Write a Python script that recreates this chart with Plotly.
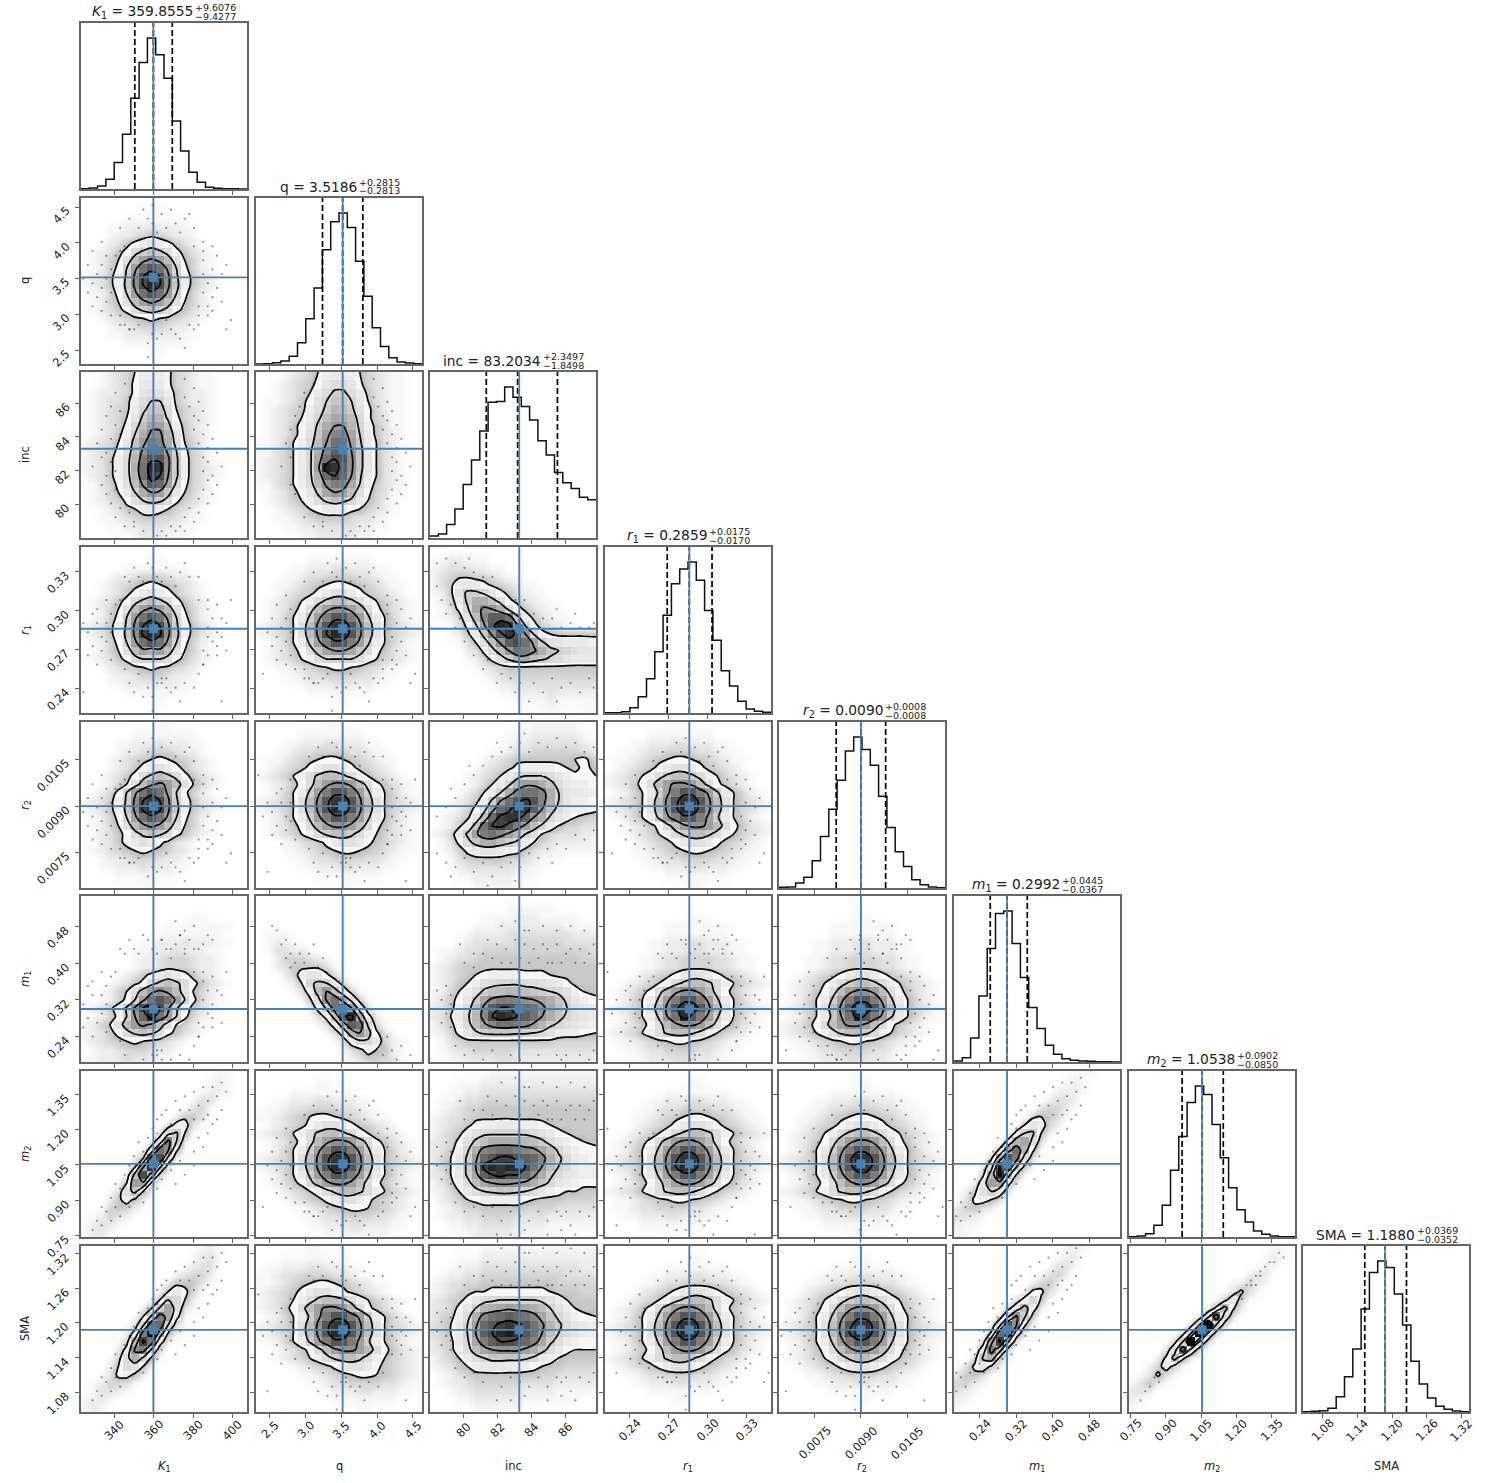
import numpy as np
import plotly.graph_objects as go

# corner plot, values
W, H = 1494, 1483
COL_LEFT = [81, 256, 430, 605, 779, 954, 1129, 1303]
ROW_TOP = [23, 198, 372, 547, 722, 896, 1071, 1246]
SIZE = 166

LABELS = ["<i>K</i><sub>1</sub>", "q", "inc", "<i>r</i><sub>1</sub>", "<i>r</i><sub>2</sub>",
          "<i>m</i><sub>1</sub>", "<i>m</i><sub>2</sub>", "SMA"]
RANGES = [(323.1, 407.4), (2.309, 4.626), (78.03, 87.83), (0.221, 0.3488),
          (0.00635, 0.01172), (0.183, 0.547), (0.743, 1.449), (1.046, 1.333)]
TICK_TEXT = [["340", "360", "380", "400"], ["2.5", "3.0", "3.5", "4.0", "4.5"], ["80", "82", "84", "86"],
             ["0.24", "0.27", "0.30", "0.33"], ["0.0075", "0.0090", "0.0105"], ["0.24", "0.32", "0.40", "0.48"],
             ["0.75", "0.90", "1.05", "1.20", "1.35"], ["1.08", "1.14", "1.20", "1.26", "1.32"]]
TRUTH = [359.8555, 3.5186, 83.3, 0.2859, 0.0090, 0.2992, 1.0538, 1.1880]
MEDIAN = ["359.8555", "3.5186", "83.2034", "0.2859", "0.0090", "0.2992", "1.0538", "1.1880"]
PLUS = ["+9.6076", "+0.2815", "+2.3497", "+0.0175", "+0.0008", "+0.0445", "+0.0902", "+0.0369"]
MINUS = ["\u22129.4277", "\u22120.2813", "\u22121.8498", "\u22120.0170", "\u22120.0008", "\u22120.0367", "\u22120.0850", "\u22120.0352"]
TITLE_END = [193, 357, 541, 707, 883, 1060, 1235, 1415]
Q16 = [350.4278, 3.2373, 81.3536, 0.2689, 0.0082, 0.2625, 0.9688, 1.1528]
Q50 = [359.8555, 3.5186, 83.2034, 0.2859, 0.0090, 0.2992, 1.0538, 1.1880]
Q84 = [369.4631, 3.8001, 85.5531, 0.3034, 0.0098, 0.3437, 1.1440, 1.2249]

# 1d histograms, 20 bins each
HIST_K1 = [1, 3, 9, 29, 79, 164, 272, 379, 452, 402, 332, 204, 114, 50, 20, 5, 2, 1, 1, 0]
HIST_Q = [0, 1, 4, 9, 23, 64, 136, 229, 344, 428, 454, 411, 309, 204, 109, 53, 19, 6, 3, 1]
HIST_INC = [6, 12, 40, 87, 160, 233, 320, 406, 408, 451, 421, 393, 353, 291, 248, 196, 165, 148, 122, 114]
HIST_R1 = [1, 1, 4, 16, 49, 103, 184, 294, 389, 433, 454, 399, 308, 219, 127, 81, 35, 12, 5, 2]
HIST_R2 = [2, 3, 15, 32, 82, 155, 237, 324, 412, 454, 417, 369, 276, 182, 109, 65, 25, 10, 3, 1]
HIST_M1 = [3, 13, 72, 198, 340, 445, 452, 355, 253, 163, 100, 50, 23, 10, 5, 3, 2, 1, 1, 0]
HIST_M2 = [1, 3, 10, 35, 95, 200, 302, 404, 453, 428, 338, 238, 148, 82, 45, 18, 8, 3, 1, 1]
HIST_SMA = [1, 2, 4, 11, 46, 106, 189, 309, 419, 453, 434, 354, 261, 152, 84, 42, 17, 8, 3, 1]
HISTS = [HIST_K1, HIST_Q, HIST_INC, HIST_R1, HIST_R2, HIST_M1, HIST_M2, HIST_SMA]

# 2d density per panel, 20x20 bins, top row first, one base-36 digit per bin
Z_q_K1 = ["00000000000000000000", "00000001110000000000", "00000111111110000000", "00011222322211000000",
          "00012234543221000000", "00123579b97532100000", "012357cfhfc753210000", "01246bhlnlhb64210000",
          "01247elqtqle74210000", "12358fnuwunf85321000", "12358gnuxung85321000", "01247elqtqle74210000",
          "01246bhlnlhb64210000", "012357cfhfc753210000", "00123456765432100000", "00012234443221000000",
          "00011222322211000000", "00000111111110000000", "00000000110000000000", "00000000000000000000"]
Z_inc_K1 = ["00123468887432110000", "00123479997432110000", "0122347abb8532210000", "0123358ceea532210000",
            "0123459dggc643210000", "012346afiid743210000", "012347chllg853210000", "012358ejnnib53210000",
            "12346aglpojc64210000", "12347bhnrqle74310000", "12358cipttnf84310000", "12358cjqxwnf84321000",
            "12358ciqwumf84321000", "01347bhntrkd74310000", "012469ejmlga64210000", "012347begfc743210000",
            "00123568986432100000", "00112345544321100000", "00011223332211000000", "00000012221110000000"]
Z_inc_q = ["00012346899864321100", "00123457acca74321100", "00123469cffc95321100", "0112357beggea6321100",
           "0123458cfihfb7421100", "0123469dhkjhc7431100", "012357afjmmid8531100", "012357bglooke9532100",
           "112468chmqqlf9632100", "113469djosrmga632100", "123469dkqutnga632100", "123469dlxwsnga632100",
           "123469djrurmf9632100", "113468cinpoke8532100", "012357afkmlhb7431100", "0123468cfhfd96421000",
           "00123467999764321000", "00112345555433210000", "00011223333322110000", "00000112222211000000"]
Z_r1_K1 = ["00000000000000000000", "00000000110000000000", "00000111111110000000", "00012234443221000000",
           "00123456765432100000", "00123579b97532100000", "012357cfhfc753210000", "01246bhlnlhb64210000",
           "01247elqtqle74210000", "12358fnuwunf85321000", "12358gnvxvng85321000", "01247elqtqle74210000",
           "01246bhljlhb64210000", "012357ceeec753210000", "00123456765432100000", "00012234443221000000",
           "00011222322211000000", "00000111111110000000", "00000000110000000000", "00000000000000000000"]
Z_r1_q = ["00000000000000000000", "00000011111111000000", "00001122233222110000", "00011233444433211000",
          "00112345677654321100", "001234579bb975432100", "0123468cfhhfc8643210", "012357chlnnlhc753210",
          "012469flpttplf964210", "12346bhntwwtnhb64321", "12346bhnuxwtnhb64321", "012469flpttplf964210",
          "012357cgkmmkgc753210", "0123468ceeeec8643210", "00112345677654321100", "00011233444433211000",
          "00001122233222110000", "00000011111111000000", "00000000011000000000", "00000000000000000000"]
Z_r1_inc = ["00000000000000000000", "01221110000000000000", "12333221100000000000", "13455443211000000000",
            "1359a975432110000000", "125bffda753211000000", "0249fjjgc75321100000", "0137dknmjd8532110000",
            "0124ahossqg953211000", "00137dltxwne84321100", "001259gntwtme8655555", "000136bhnsuqlfba9998",
            "0000237chmqpnjgedbaa", "00001247bfjkhfdca999", "00000123455555555555", "00000012344444444444",
            "00000001223333333333", "00000000112222322222", "00000000001111211111", "00000000000001110011"]
Z_r2_K1 = ["00000000011000000000", "00000011111111000000", "00001122232221100000", "00001223444322100000",
           "00012345676543210000", "000123579b9753210000", "0012357cfhfc75321000", "001246bhlnlhb6421000",
           "01247elqtqle74210000", "12358fnuwunf85321000", "12358gnvxvng85321000", "01247elqtqle74210000",
           "01246bhlnlhb64210000", "012357cfhfc753210000", "0123579b975321000000", "01234567654321000000",
           "00122344432210000000", "00112223222110000000", "00001111111100000000", "00000001100000000000"]
Z_r2_q = ["00000000110000000000", "00000111111110000000", "00011222332221100000", "00112334444332110000",
          "01123456776543211000", "01234579bb9754321000", "123468cfhhfc86432100", "012357chlnnlhc753210",
          "012469flpttplf964210", "12346bhntwwtnhb64321", "12346bhntxwtnhb64321", "012469flpttplf964210",
          "012357chlnnlhc753210", "0123468cfhhfc8643210", "0001234579bb97543210", "00011234567765432110",
          "00001123344443321100", "00000112223322211000", "00000001111111100000", "00000000001100000000"]
Z_r2_inc = ["00000000000011111100", "00000000011122222210", "00000000112233333321", "00000001123344444432",
            "00000012345555555674", "00000123457888876575", "0000123469ceeeca8776", "000112469dilljgc9887",
            "00012469ejoqqojea998", "0012358fmqtvtojea887", "001247ckrtxwsmhc9887", "01235ahrvwwsmjda8654",
            "01259gquvtplhd964433", "1249flpqolieb6433322", "0137cgjjhfd964322221", "012479aa987532211111",
            "00134555544321110000", "00123333332211000000", "00011222221110000000", "00000111111000000000"]
Z_r2_r1 = ["00000000110000000000", "00000111111110000000", "00011222332221100000", "00112334444332110000",
           "01123456776543211000", "01234579bb9754321000", "123468cfhhfc86432100", "12357chlnnlhc7532100",
           "012469flpttplf964210", "12346bhntwwtnhb64321", "12346bhntxwtnhb64321", "012469flpttplf964210",
           "0012357chlnnlhc75321", "00123468cfhhfc864321", "0001234579bb97543210", "00011234567765432110",
           "00001123344443321100", "00000112223322211000", "00000001111111100000", "00000000001100000000"]
Z_m1_K1 = ["00000000000000000000", "00000000000000000000", "00000000000001100000", "00000000001111111100",
           "00000000011111111000", "00000001122232221100", "00000011222322211000", "00000012234443221000",
           "00000012234443221000", "0000123579b975321000", "00012357cfhfc7532100", "001246bhlnlhb6421000",
           "001247elqtqle7421000", "12358fnuwunf85321000", "01247emrxqle74210000", "1246bhlnlhb642100000",
           "12357cfhfc7532100000", "12345676543210000000", "01223444322100000000", "11222322211000000000"]
Z_m1_q = ["00000000000000000000", "00000000000000000000", "00000000000000000000", "00000000000000000000",
          "01110000000000000000", "01221000000000000000", "01332210000000000000", "00244432100000000000",
          "00235555310000000000", "000248aa731000000000", "000126dfe94100000000", "0000139hmha410000000",
          "0000015cnqkc41000000", "00000028fqtmb3100000", "000000138htwj8200000", "0000000139isqd410000",
          "00000000139imh731000", "000000000139dd942100", "00000000001358652100", "00000000000123433100"]
Z_m1_inc = ["00000000000000000000", "00000000011111100000", "00000011112221111100", "00000111222222221111",
            "00001222233333333222", "00012333334444443333", "01123344444444444443", "01233455555555555544",
            "12345555555555555555", "12345678888777655555", "123568bcdddccba97555", "12468bfhhiihgfedb865",
            "1357afknpponmljgda87", "2358chnsuutrqnkheba9", "2369diouxwusqmjgdba9", "1358chloqqpolifdba98",
            "1247adfgggffedb98876", "01345555555555544444", "01233444443333333333", "00112222332222222222"]
Z_m1_r1 = ["00000000000000000000", "00000000000000000000", "00000000001100000000", "00000001111111100000",
           "00000001111111100000", "00000112223322211000", "00000112223322211000", "00001123344443321100",
           "00001123344443321100", "0001234579bb97543210", "00123468cfhhfc864321", "012357chlnnlhc753210",
           "012469flpttplf964210", "12346bhntwwtnhb64321", "012469fmqxtplf964210", "012357chlnnlhc753210",
           "123468cfhhfc86432100", "01123456776543211000", "00112334444332110000", "00011222332221100000"]
Z_m1_r2 = ["00000000000000000000", "00000000000000000000", "00000000011000000000", "00000011111111000000",
           "00000011111111000000", "00001122233222110000", "00001122233222110000", "00011233444433211000",
           "00011233444433211000", "001234579bb975432100", "0123468cfhhfc8643210", "012357chlnnlhc753210",
           "012469flpttplf964210", "12346bhntwwtnhb64321", "012469gmqxtplf964210", "12357chlnnlhc7532100",
           "123468cfhhfc86432100", "01123456776543211000", "00112334444332110000", "00011222332221100000"]
Z_m2_K1 = ["00000000000000001100", "00000000000000012100", "00000000000000122100", "00000000000001331000",
           "00000000000013410000", "00000000000255310000", "00000000003883100000", "0000000003cf61000000",
           "000000003aoe20000000", "000000029qn710000000", "00000026puc200000000", "0000015lwg3000000000",
           "000002guj41000000000", "000016ll510000000000", "00013bg6200000000000", "00025852000000000000",
           "00145421000000000000", "01243200000000000000", "02321000000000000000", "12210000000000000000"]
Z_m2_q = ["00000000000000000000", "00000001100000000000", "00001111111100000000", "00112223322211000000",
          "01123344443321100000", "11234567765432110000", "01234579bb9754321000", "123468cfhhfc86432100",
          "012357chlnnlhc753210", "012469flpttplf964210", "12346bhntwwtnhb64321", "12346bhntxwtnhb64321",
          "012469flpttplf964210", "012357chlnnlhc753210", "00123468cfhhfc864321", "0001234579bb97543210",
          "00001123456776543211", "00000112334444332110", "00000011222332221100", "00000000111111110000"]
Z_m2_inc = ["00000001111111111111", "00011122222222222222", "00112233333333333333", "01123344444444444444",
            "01234455555555555555", "12334555555555555555", "12345788998887655555", "13458bddddddcb976555",
            "2347bfhjjjjihfca8765", "2358djopqqponkhda877", "2469flrtvvtsrojfc987", "246afmvxwxxuqmhec988",
            "2369fksuwuurnjfca988", "1358chkmnnmljgda9877", "12469cefggfeca876655", "02346788888765554444",
            "01234455555444433333", "01223344443333222222", "00112233332222111111", "00011222221111110000"]
Z_m2_r1 = ["00000000000000000000", "00000000001100000000", "00000001111111100000", "00000112223322211000",
           "00001123344443321100", "00011234567765432110", "0001234579bb97543210", "00123468cfhhfc864321",
           "012357chlnnlhc753210", "012469flpttplf964210", "12346bhntwwtnhb64321", "12346bhnuxwtnhb64321",
           "012469flpttplf964210", "012357chlnnlhc753210", "123468cfhhfc86432100", "01123456776543211000",
           "01123344443321100000", "00112223322211000000", "00001111111100000000", "00000001100000000000"]
Z_m2_r2 = ["00000000000000000000", "00000000011000000000", "00000011111111000000", "00001122233222110000",
           "00011233444433211000", "00112345677654321100", "001234579bb975432100", "0123468cfhhfc8643210",
           "012357chlnnlhc753210", "012469flpttplf964210", "12346bhntxwtnhb64321", "12346bhntwwtnhb64321",
           "012469flpttplf964210", "012357chlnnlhc753210", "123468cfhhfc86432100", "01123456776543211000",
           "00112334444332110000", "00011222332221100000", "00000111111110000000", "00000000110000000000"]
Z_m2_m1 = ["00000000000000111000", "00000000000001210000", "00000000000022210000", "00000000000233200000",
           "00000000003442100000", "00000000056531000000", "000000006a8420000000", "00000008ef6200000000",
           "0000008ikc3000000000", "000007jqi71000000000", "00005jtpb30000000000", "0002butf510000000000",
           "0005iwh6100000000000", "002alk82000000000000", "025bea30000000000000", "03786300000000000000",
           "24532000000000000000", "33210000000000000000", "21100000000000000000", "11000000000000000000"]
Z_sma_K1 = ["00000000000000121000", "00000000000001231000", "00000000000012331000", "00000000000234420000",
            "00000000002555310000", "00000000026974100000", "0000000026ed62000000", "000000026fkb31000000",
            "00000016fpk810000000", "0000013drre310000000", "0000028pxj6200000000", "000014hvq92000000000",
            "000028npd30000000000", "00014cjd510000000000", "00026cb6100000000000", "00137852000000000000",
            "01244310000000000000", "01332100000000000000", "12210000000000000000", "12100000000000000000"]
Z_sma_q = ["00000011000000000000", "00011111111000000000", "01122233222110000000", "11233444433211000000",
           "11234567765432110000", "1234579bb97543210000", "123468cfhhfc86432100", "12357chlnnlhc7532100",
           "012469flpttplf964210", "12346bhntwwtnhb64321", "12346bhntxwtnhb64321", "012469flpttplf964210",
           "0012357chlnnlhc75321", "00123468cfhhfc864321", "00001234579bb9754321", "00000112345677654321",
           "00000011233444433211", "00000001122233222110", "00000000011111111000", "00000000000011000000"]
Z_sma_inc = ["00000011111111111111", "00011122222222222222", "00112233333333333322", "01223344444444443333",
             "12334455555555544444", "12345667777777655544", "23457acdeeeeedb86555", "2347aeijklkkjheb8655",
             "2458cjoqrsrqokgda876", "3469elrtvwvtqnifca98", "3469emsuxywtqmheca98", "2459dkpsuutrokfc9877",
             "2358chkmnnnljgc97666", "13469ceggggfda865555", "1235689aa99876554444", "01234555555554433333",
             "01223444444333322222", "00122333333222211111", "00011222222111111100", "00000111111000000000"]
Z_sma_r1 = ["00000000000000000000", "00000000001100000000", "00000001111111100000", "00000112223322211000",
            "00001123344443321100", "0001234579bb97543210", "00123468cfhhfc864321", "012357chlnnlhc753210",
            "012469flpttplf964210", "12346bhntwwtnhb64321", "12346bhntxwtnhb64321", "012469flpttplf964210",
            "012357chlnnlhc753210", "123468cfhhfc86432100", "01234579bb9754321000", "00112334444332110000",
            "00011222332221100000", "00000111111110000000", "00000000110000000000", "00000000000000000000"]
Z_sma_r2 = ["00000000000000000000", "00000000011000000000", "00000011111111000000", "00001122233222110000",
            "00011233444433211000", "001234579bb975432100", "0123468cfhhfc8643210", "012357chlnnlhc753210",
            "012469flpttplf964210", "12346bhntwwtnhb64321", "12346bhnuxwtnhb64321", "012469flpttplf964210",
            "012357chlnnlhc753210", "0123468cfhhfc8643210", "001234579bb975432100", "00011233444433211000",
            "00001122233222110000", "00000011111111000000", "00000000011000000000", "00000000000000000000"]
Z_sma_m1 = ["00000000000001210000", "00000000000012200000", "00000000000133100000", "00000000001342000000",
            "00000000024520000000", "00000000277310000000", "000000038d5100000000", "0000004ah92000000000",
            "000003dnf40000000000", "00002ctn710000000000", "00007rva200000000000", "0003kvf3000000000000",
            "001aph40000000000000", "004fj510000000000000", "037a5200000000000000", "25531000000000000000",
            "44210000000000000000", "32100000000000000000", "21000000000000000000", "10000000000000000000"]
Z_sma_m2 = ["00000000000000000110", "00000000000000001210", "00000000000000012100", "00000000000000232000",
            "00000000000012421000", "00000000000137310000", "000000000014a4100000", "00000000027h72000000",
            "000000003brb30000000", "00000004eze400000000", "0000004eze4000000000", "000004eze40000000000",
            "00003brb300000000000", "00027h72000000000000", "00249410000000000000", "01373100000000000000",
            "13521000000000000000", "23200000000000000000", "21000000000000000000", "10000000000000000000"]

PANELS = {(1, 0): Z_q_K1,
          (2, 0): Z_inc_K1, (2, 1): Z_inc_q,
          (3, 0): Z_r1_K1, (3, 1): Z_r1_q, (3, 2): Z_r1_inc,
          (4, 0): Z_r2_K1, (4, 1): Z_r2_q, (4, 2): Z_r2_inc, (4, 3): Z_r2_r1,
          (5, 0): Z_m1_K1, (5, 1): Z_m1_q, (5, 2): Z_m1_inc, (5, 3): Z_m1_r1, (5, 4): Z_m1_r2,
          (6, 0): Z_m2_K1, (6, 1): Z_m2_q, (6, 2): Z_m2_inc, (6, 3): Z_m2_r1, (6, 4): Z_m2_r2, (6, 5): Z_m2_m1,
          (7, 0): Z_sma_K1, (7, 1): Z_sma_q, (7, 2): Z_sma_inc, (7, 3): Z_sma_r1, (7, 4): Z_sma_r2, (7, 5): Z_sma_m1,
          (7, 6): Z_sma_m2}

# stray samples, pairs of base-36 digits (x, y from top) on a 36x36 lattice of the panel
D_a = ("c5f3h6j4m6o5k7e7i8n8g5q7a7l3h2p4saubvdseugwhtjvkslumwntouprqsh6a4c7d3f6f8g5h2i7i4j6k8l3l5m7n4o6p8q"
       "bsdtfrhujultnvpsrsctgwivkrmuoxqtesasbb9dacqbsccta qrotqxfyr1rxtgz").replace(" ", "")
D_b = ("d4e6g3i6k4l6n5p6b6f7j7h4m8c7r6o3tbvctdwfufxgthvitjwjukvlsmxmtnvnsp7b5d8e4e2g7g5g8i3i6j1j7k4l6m3n8o5p"
       "cterguitjsksmuotquspdvhwlvnxfwkujtabrb9cbqrr0ayb2vwxhz")
D_c = ("9274a56788597b4c8d6e3f7g5h8i4i6j2k7l5m8n4o7p5q9r6s8tau7vbw9xdybx"
       "m1o3m5p6n7q8o9parbocqdsepfrgthqirjukqlsmrntoqpsqprrsntpumvowlxmygzizkyhyjx")
D_d = ("66987a9bb8c5d9e6fag7hai5j9k6lam7n9o6pap7qar6sat8u7vaw7xay8z6f2i1l3o2r3u2x3k3"
       "3f1g4h2i4j1k3l4m2n4o5s7u9tbvdtfwhujvlwnupwrusvtuuxwuyvztezhzkypzsyvz")
D_e = ("2y3w4x5u6w4t7t8v6r9r8patbr7o9makckbidhcfeefcgdh9gai8k6l8jbeqdsgphnkojlmmljokohqgperdsbqa"
       "m5o4n8p7r6s3q3t5u2r9u8tav4oa")
D_f = "5a697c8a6d9c8ebcaedfch7f9hbkdlfhgjikfohpkmlonqjrltosqtnwpxsutxvwryuzxy4736caed"
D_g = "2x3v4u5s7r6t8p7q9panmcnbo9obp8q8r6q7s6t4u3s5v3w1x2par8cnejgjkdie"
D_h = "133253748295b6d6e9gaibkbmeofqfshugwhyhzgverd182b4c3e6f5h8i7kal9ncobqfrethsjtivmtovqssuutwvyszulxrx"
D_i = "1k3i5g4e7d9b89b9d7f6e4h5j4l6n4p5r3t5v4x6z5k21s3u5v7t9wbudxfvhujvlsntprrqtrvoxpzncziy4xqu"
D_up = "k5m7o6n9l8qar8pbs9mcjbh9"

# which stray set goes where, with its lattice offset
DUST = {(1, 0): (D_a, -2, -1), (2, 0): (D_c, 0, 0), (2, 1): (D_c, 3, 0),
        (3, 0): (D_b, -2, 0), (3, 1): (D_a, 0, 0), (3, 2): (D_h, 0, 0),
        (4, 0): (D_a, -2, 1), (4, 1): (D_b, 0, 1), (4, 2): (D_i, 0, 0), (4, 3): (D_a, 0, 1),
        (5, 0): (D_b, -3, 5), (5, 1): (D_f, 0, 0), (5, 2): (D_d, 0, 4), (5, 3): (D_b, 0, 6), (5, 4): (D_a, 0, 6),
        (6, 0): (D_e, 0, 0), (6, 1): (D_a, 0, 2), (6, 2): (D_d, 0, 0), (6, 3): (D_b, 0, 2), (6, 4): (D_a, 1, 2),
        (6, 5): (D_e, -3, -1),
        (7, 0): (D_e, 0, -1), (7, 1): (D_b, 0, 0), (7, 2): (D_d, 0, -2), (7, 3): (D_a, 1, 0), (7, 4): (D_b, -1, 0),
        (7, 5): (D_e, -4, -2), (7, 6): (D_g, 0, 0)}
TAILS = {(5, 0): D_up, (5, 3): D_up, (5, 4): D_up}

FONT = "DejaVu Sans"
TEXT = "#222222"
FRAME = "#666666"
BLUE = "#4682b4"
OUTER, STEP, INNER = 6, 8, 30
SHOW_FROM = 8
GREYS = [[0, "#f7f7f7"], [8 / 29, "#d4d4d4"], [16 / 29, "#989898"], [24 / 29, "#4c4c4c"], [1, "#101010"]]
# smooth layer: dust shading below the outer contour, near white above it
HALO = [[0, "#ffffff"], [1 / 35, "#f8f8f8"], [3 / 35, "#e2e2e2"], [5.99 / 35, "#bcbcbc"], [6 / 35, "#f6f6f6"], [1, "#f6f6f6"]]


def read_grid(rows):
    z = np.array([[int(c, 36) for c in r.ljust(20, "0")[:20]] for r in rows], dtype=float)
    return z[::-1]


def read_dust(pairs, ox, oy):
    ux = np.array([int(c, 36) for c in pairs[0::2]], dtype=float) + ox
    uy = np.array([int(c, 36) for c in pairs[1::2]], dtype=float) + oy
    return ux, uy


def note(text, x, y, xref="paper", yref="paper", size=11.5, **kw):
    return dict(text=text, x=x, y=y, xref=xref, yref=yref, showarrow=False, borderpad=0,
                font=dict(family=FONT, size=size, color=TEXT), **kw)


fig = go.Figure()
annotations = []
axes = {}
k = 0
for row in range(8):
    for col in range(row + 1):
        k += 1
        xname, yname = ("x%d" % k, "y%d" % k)
        lo, hi = RANGES[col]
        ticks = [float(t) for t in TICK_TEXT[col]]
        left, top = COL_LEFT[col], ROW_TOP[row]
        axes["xaxis%d" % k] = dict(domain=[left / W, (left + SIZE) / W], anchor=yname, range=[lo, hi],
                                   tickvals=ticks, showticklabels=False, ticks="outside", ticklen=4, tickwidth=1,
                                   tickcolor=FRAME, showline=True, mirror=True, linewidth=1.5, linecolor=FRAME,
                                   showgrid=False, zeroline=False)
        if row == col:
            h = HISTS[col]
            edges = np.linspace(lo, hi, 21)
            axes["yaxis%d" % k] = dict(domain=[1 - (top + SIZE) / H, 1 - top / H], anchor=xname,
                                       range=[0, 1.1 * max(h)], showticklabels=False, ticks="",
                                       showline=True, mirror=True, linewidth=1.5, linecolor=FRAME,
                                       showgrid=False, zeroline=False)
            fig.add_trace(go.Scatter(x=edges, y=h + [h[-1]], mode="lines", line=dict(color="#111111", width=1.5, shape="hv"),
                                     xaxis=xname, yaxis=yname, hoverinfo="skip", showlegend=False))
            dx, dy = [], []
            for q in (Q16[col], Q50[col], Q84[col]):
                dx += [q, q, None]
                dy += [0, 1.1 * max(h), None]
            fig.add_trace(go.Scatter(x=dx, y=dy, mode="lines", line=dict(color="black", width=1.7, dash="6px,3px"),
                                     xaxis=xname, yaxis=yname, hoverinfo="skip", showlegend=False))
            fig.add_trace(go.Scatter(x=[TRUTH[col], TRUTH[col]], y=[0, 1.1 * max(h)], mode="lines",
                                     line=dict(color=BLUE, width=1.7), xaxis=xname, yaxis=yname,
                                     hoverinfo="skip", showlegend=False))
            end = TITLE_END[col]
            annotations.append(note(LABELS[col] + " = " + MEDIAN[col], (end + 1) / W, 1 - (top - 11) / H, size=13.8,
                                    xanchor="right", yanchor="middle"))
            annotations.append(note(PLUS[col], (end + 0.5) / W, 1 - (top - 15.5) / H, size=9.5,
                                    xanchor="left", yanchor="middle"))
            annotations.append(note(MINUS[col], (end + 0.5) / W, 1 - (top - 7) / H, size=9.5,
                                    xanchor="left", yanchor="middle"))
        else:
            ylo, yhi = RANGES[row]
            yticks = [float(t) for t in TICK_TEXT[row]]
            axes["yaxis%d" % k] = dict(domain=[1 - (top + SIZE) / H, 1 - top / H], anchor=xname, range=[ylo, yhi],
                                       tickvals=yticks, showticklabels=False, ticks="outside", ticklen=4, tickwidth=1,
                                       tickcolor=FRAME, showline=True, mirror=True, linewidth=1.5, linecolor=FRAME,
                                       showgrid=False, zeroline=False)
            z = read_grid(PANELS[(row, col)])
            xe = np.linspace(lo, hi, 21)
            ye = np.linspace(ylo, yhi, 21)
            xc = (xe[:-1] + xe[1:]) / 2
            yc = (ye[:-1] + ye[1:]) / 2
            xc[0], xc[-1] = lo, hi
            yc[0], yc[-1] = ylo, yhi
            # dust shading and the near white inside of the outer contour
            fig.add_trace(go.Heatmap(x=xc, y=yc, z=z, zmin=0, zmax=35, zsmooth="best", colorscale=HALO, showscale=False,
                                     hoverinfo="skip", xaxis=xname, yaxis=yname))
            # grey bins inside the contours
            fig.add_trace(go.Heatmap(x=xe, y=ye, z=np.where(z >= SHOW_FROM, z, np.nan), zmin=OUTER, zmax=35,
                                     colorscale=GREYS, showscale=False, hoverinfo="skip", xaxis=xname, yaxis=yname))
            fig.add_trace(go.Contour(x=xc, y=yc, z=z, showscale=False, hoverinfo="skip", autocontour=False,
                                     contours=dict(start=OUTER, end=INNER, size=STEP, coloring="none"),
                                     line=dict(color="black", width=1.7, smoothing=0.8), xaxis=xname, yaxis=yname))
            # strays, only outside the outer contour
            pairs, ox, oy = DUST[(row, col)]
            ux, uy = read_dust(pairs, ox, oy)
            if (row, col) in TAILS:
                tx2, ty2 = read_dust(TAILS[(row, col)], 0, 0)
                ux, uy = np.r_[ux, tx2], np.r_[uy, ty2]
            keep = (ux >= 0) & (ux < 36) & (uy >= 0) & (uy < 36)
            ux, uy = ux[keep], uy[keep]
            cell = z[(19 - (uy / 1.8).astype(int)), (ux / 1.8).astype(int)]
            ux, uy = ux[cell < OUTER], uy[cell < OUTER]
            fig.add_trace(go.Scatter(x=lo + (ux + 0.5) / 36 * (hi - lo), y=yhi - (uy + 0.5) / 36 * (yhi - ylo), mode="markers",
                                     marker=dict(color="rgba(0,0,0,0.4)", size=2.2, line=dict(width=0)),
                                     xaxis=xname, yaxis=yname, hoverinfo="skip", showlegend=False))
            tx, ty = TRUTH[col], TRUTH[row]
            fig.add_trace(go.Scatter(x=[tx, tx, None, lo, hi], y=[ylo, yhi, None, ty, ty], mode="lines",
                                     line=dict(color=BLUE, width=1.9), xaxis=xname, yaxis=yname,
                                     hoverinfo="skip", showlegend=False))
            fig.add_trace(go.Scatter(x=[tx], y=[ty], mode="markers", marker=dict(color=BLUE, size=9, symbol="square"),
                                     xaxis=xname, yaxis=yname, hoverinfo="skip", showlegend=False))
            if col == 0:
                for t, s in zip(yticks, TICK_TEXT[row]):
                    annotations.append(note(s, (left - 7) / W, t, yref=yname, xanchor="right", yanchor="top",
                                            yshift=5, textangle=-45))
                annotations.append(note(LABELS[row], 25 / W, 1 - (top + SIZE / 2) / H, textangle=-90,
                                        xanchor="center", yanchor="middle"))
        if row == 7:
            for t, s in zip(ticks, TICK_TEXT[col]):
                off = 31 if len(s) > 4 else 18
                annotations.append(note(s, t, 1 - (top + SIZE + off) / H, xref=xname, xanchor="center",
                                        yanchor="middle", textangle=-45))
            annotations.append(note(LABELS[col], (left + SIZE / 2) / W, 1 - 1466 / H, xanchor="center", yanchor="middle"))

fig.update_layout(width=W, height=H, margin=dict(l=0, r=0, t=0, b=0), paper_bgcolor="white", plot_bgcolor="white",
                  showlegend=False, font=dict(family=FONT, color=TEXT), annotations=annotations, **axes)
fig.write_html("out.html", config={"displayModeBar": False}, post_script="document.body.style.margin='0';")
